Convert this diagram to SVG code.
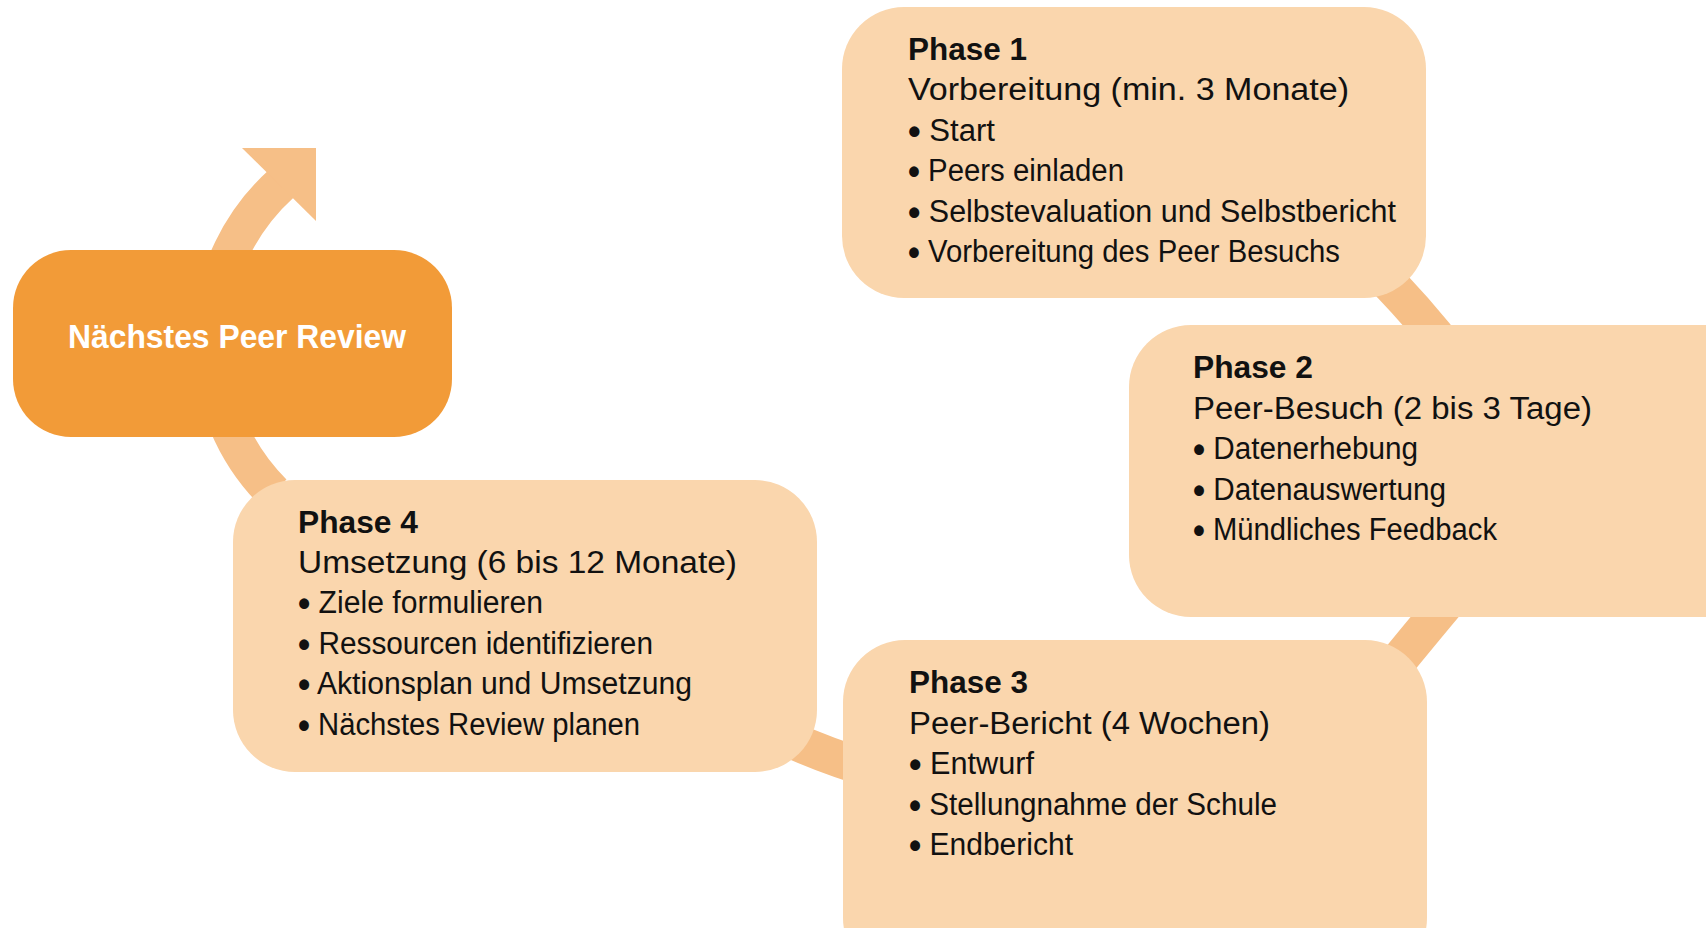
<svg xmlns="http://www.w3.org/2000/svg" width="1706" height="928" viewBox="0 0 1706 928">
  <style>
    .box { fill: #FAD6AD; }
    .main { fill: #F29B38; }
    .band { fill: none; stroke: #F6BF87; stroke-width: 37; }
    .head { font-family: "Liberation Sans", Arial, sans-serif; font-weight: bold; font-size: 32px; fill: #111; }
    .body { font-family: "Liberation Sans", Arial, sans-serif; font-size: 31px; fill: #111; }
    .b { font-weight: bold; font-size: 36px; }
    .title { font-family: "Liberation Sans", Arial, sans-serif; font-weight: bold; font-size: 33px; fill: #FFFFFF; }
  </style>
  <rect width="1706" height="928" fill="#FFFFFF"/>
  <g id="connectors">
    <path class="band" d="M 273.4 492.6 A 213 213 0 0 1 281 184"/>
    <polygon points="242,148 316,148 316,221" fill="#F6BF87"/>
    <path class="band" d="M 1355 250 Q 1405 295 1455 360"/>
    <path class="band" d="M 1470 575 Q 1440 610 1395 665"/>
    <path class="band" stroke-width="36" d="M 880 772 Q 830 758 780 735"/>
  </g>
  <g id="next-review">
    <rect class="main" x="13" y="250" width="439" height="187" rx="58" ry="58"/>
    <text class="title" x="68" y="348" textLength="338" lengthAdjust="spacingAndGlyphs">Nächstes Peer Review</text>
  </g>
  <g id="phase1">
    <rect class="box" x="842" y="7" width="584" height="291" rx="62" ry="62"/>
    <text class="head" x="908" y="60" textLength="119" lengthAdjust="spacingAndGlyphs">Phase 1</text>
    <text class="body" x="908" y="100" textLength="441" lengthAdjust="spacingAndGlyphs">Vorbereitung (min. 3 Monate)</text>
    <text class="body" x="908" y="141" textLength="87" lengthAdjust="spacingAndGlyphs"><tspan class="b" dy="3">•</tspan><tspan dy="-3"> Start</tspan></text>
    <text class="body" x="908" y="181" textLength="216" lengthAdjust="spacingAndGlyphs"><tspan class="b" dy="3">•</tspan><tspan dy="-3"> Peers einladen</tspan></text>
    <text class="body" x="908" y="222" textLength="488" lengthAdjust="spacingAndGlyphs"><tspan class="b" dy="3">•</tspan><tspan dy="-3"> Selbstevaluation und Selbstbericht</tspan></text>
    <text class="body" x="908" y="262" textLength="432" lengthAdjust="spacingAndGlyphs"><tspan class="b" dy="3">•</tspan><tspan dy="-3"> Vorbereitung des Peer Besuchs</tspan></text>
  </g>
  <g id="phase2">
    <rect class="box" x="1129" y="325" width="640" height="292" rx="62" ry="62"/>
    <text class="head" x="1193" y="378" textLength="120" lengthAdjust="spacingAndGlyphs">Phase 2</text>
    <text class="body" x="1193" y="419" textLength="399" lengthAdjust="spacingAndGlyphs">Peer-Besuch (2 bis 3 Tage)</text>
    <text class="body" x="1193" y="459" textLength="225" lengthAdjust="spacingAndGlyphs"><tspan class="b" dy="3">•</tspan><tspan dy="-3"> Datenerhebung</tspan></text>
    <text class="body" x="1193" y="500" textLength="253" lengthAdjust="spacingAndGlyphs"><tspan class="b" dy="3">•</tspan><tspan dy="-3"> Datenauswertung</tspan></text>
    <text class="body" x="1193" y="540" textLength="304" lengthAdjust="spacingAndGlyphs"><tspan class="b" dy="3">•</tspan><tspan dy="-3"> Mündliches Feedback</tspan></text>
  </g>
  <g id="phase3">
    <rect class="box" x="843" y="640" width="584" height="340" rx="62" ry="62"/>
    <text class="head" x="909" y="693" textLength="119" lengthAdjust="spacingAndGlyphs">Phase 3</text>
    <text class="body" x="909" y="734" textLength="361" lengthAdjust="spacingAndGlyphs">Peer-Bericht (4 Wochen)</text>
    <text class="body" x="909" y="774" textLength="125" lengthAdjust="spacingAndGlyphs"><tspan class="b" dy="3">•</tspan><tspan dy="-3"> Entwurf</tspan></text>
    <text class="body" x="909" y="815" textLength="368" lengthAdjust="spacingAndGlyphs"><tspan class="b" dy="3">•</tspan><tspan dy="-3"> Stellungnahme der Schule</tspan></text>
    <text class="body" x="909" y="855" textLength="164" lengthAdjust="spacingAndGlyphs"><tspan class="b" dy="3">•</tspan><tspan dy="-3"> Endbericht</tspan></text>
  </g>
  <g id="phase4">
    <rect class="box" x="233" y="480" width="584" height="292" rx="62" ry="62"/>
    <text class="head" x="298" y="533" textLength="120" lengthAdjust="spacingAndGlyphs">Phase 4</text>
    <text class="body" x="298" y="573" textLength="439" lengthAdjust="spacingAndGlyphs">Umsetzung (6 bis 12 Monate)</text>
    <text class="body" x="298" y="613" textLength="245" lengthAdjust="spacingAndGlyphs"><tspan class="b" dy="3">•</tspan><tspan dy="-3"> Ziele formulieren</tspan></text>
    <text class="body" x="298" y="654" textLength="355" lengthAdjust="spacingAndGlyphs"><tspan class="b" dy="3">•</tspan><tspan dy="-3"> Ressourcen identifizieren</tspan></text>
    <text class="body" x="298" y="694" textLength="394" lengthAdjust="spacingAndGlyphs"><tspan class="b" dy="3">•</tspan><tspan dy="-3"> Aktionsplan und Umsetzung</tspan></text>
    <text class="body" x="298" y="735" textLength="342" lengthAdjust="spacingAndGlyphs"><tspan class="b" dy="3">•</tspan><tspan dy="-3"> Nächstes Review planen</tspan></text>
  </g>
</svg>
